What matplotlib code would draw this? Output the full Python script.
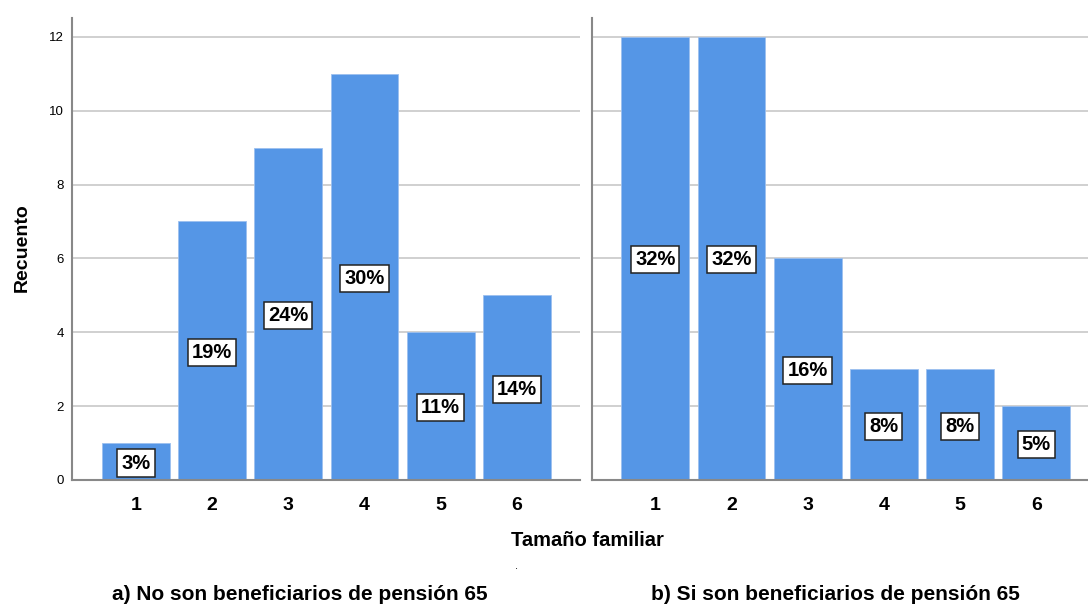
import matplotlib
matplotlib.use("Agg")
import matplotlib.pyplot as plt

plt.rcParams['font.family'] = ['Liberation Sans', 'DejaVu Sans']

categories = ['1', '2', '3', '4', '5', '6']
counts_a = [1, 7, 9, 11, 4, 5]
pct_a = ['3%', '19%', '24%', '30%', '11%', '14%']
counts_b = [12, 12, 6, 3, 3, 2]
pct_b = ['32%', '32%', '16%', '8%', '8%', '5%']
yticks = [0, 2, 4, 6, 8, 10, 12]
title_a = 'a) No son beneficiarios de pensión 65'
title_b = 'b) Si son beneficiarios de pensión 65'
xlabel = 'Tamaño familiar'
ylabel = 'Recuento'

W, H = 1088, 606
fig = plt.figure(figsize=(W / 100, H / 100), dpi=100)

bar_color = '#5596e6'
grid_color = '#c8c8c8'
spine_color = '#888888'

def px_axes(x0, x1, y0, y1):
    return fig.add_axes([x0 / W, 1 - y1 / H, (x1 - x0) / W, (y1 - y0) / H])

ax1 = px_axes(72, 580, 18, 480)
ax2 = px_axes(592, 1088, 18, 480)

for ax, counts, pcts, xlim, show_labels in [
        (ax1, counts_a, pct_a, (0.16, 6.83), True),
        (ax2, counts_b, pct_b, (0.17, 6.68), False)]:
    x = list(range(1, len(categories) + 1))
    ax.set_axisbelow(True)
    ax.yaxis.grid(True, color=grid_color, linewidth=1.2)
    ax.bar(x, counts, width=0.89, color=bar_color, edgecolor='#9cc0ef', linewidth=0.6, zorder=2)
    for xi, c, p in zip(x, counts, pcts):
        ax.text(xi, c / 2 - 0.04, p, ha='center', va='center', fontsize=14.5, fontweight='bold',
                color='black', zorder=3,
                bbox=dict(boxstyle='square,pad=0.2', facecolor='white', edgecolor='#222222', linewidth=1.1))
    ax.set_xlim(*xlim)
    ax.set_ylim(0, 12.51)
    ax.set_xticks(x)
    ax.set_xticklabels(categories, fontsize=14, fontweight='bold')
    ax.set_yticks(yticks)
    if show_labels:
        ax.set_yticklabels([str(t) for t in yticks], fontsize=9.5)
    else:
        ax.set_yticklabels([])
    ax.tick_params(axis='x', length=0, pad=12)
    ax.tick_params(axis='y', length=0, pad=6)
    for s in ['top', 'right']:
        ax.spines[s].set_visible(False)
    ax.spines['left'].set_color(spine_color)
    ax.spines['left'].set_linewidth(1.5)
    ax.spines['bottom'].set_color(spine_color)
    ax.spines['bottom'].set_linewidth(1.5)

fig.text(22 / W, 1 - 248 / H, ylabel, rotation=90, ha='center', va='center',
         fontsize=14, fontweight='bold')
fig.text(587 / W, 1 - 540 / H, xlabel, ha='center', va='center', fontsize=14.5, fontweight='bold')
fig.text(517 / W, 1 - 566 / H, '.', ha='center', va='center', fontsize=8)
fig.text(300 / W, 1 - 595 / H, title_a, ha='center', va='center', fontsize=15, fontweight='bold')
fig.text(835 / W, 1 - 595 / H, title_b, ha='center', va='center', fontsize=15, fontweight='bold')

fig.savefig('out.png', dpi=100)
